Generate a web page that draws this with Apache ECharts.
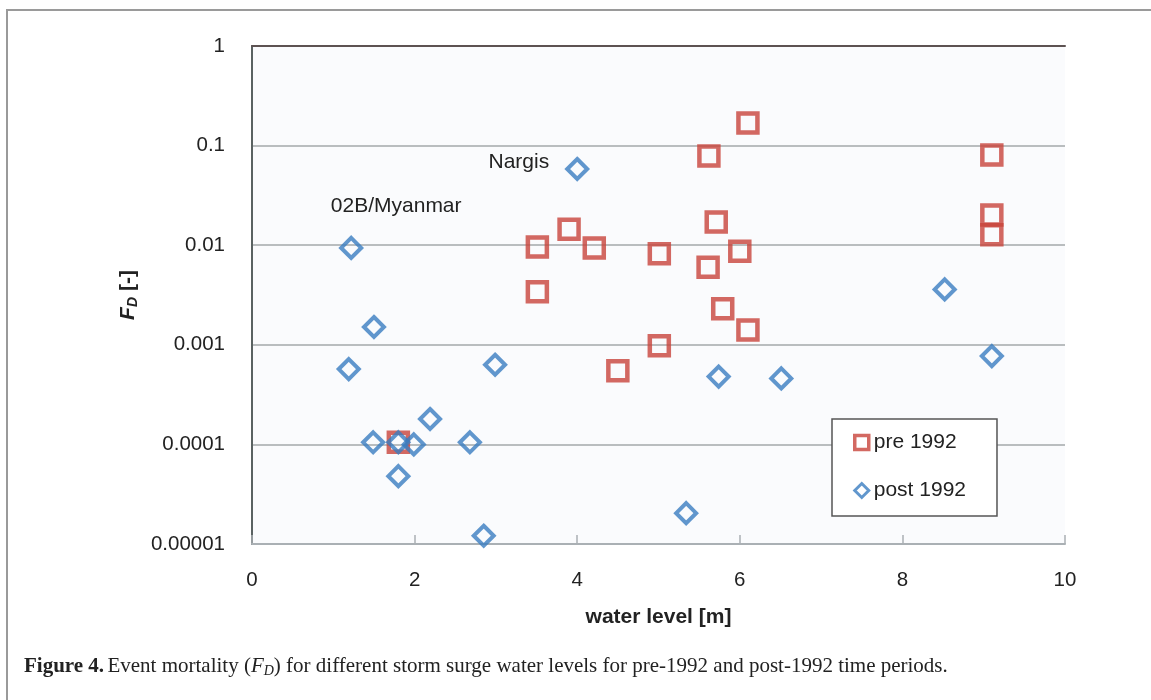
<!DOCTYPE html>
<html>
<head>
<meta charset="utf-8">
<script src="https://cdn.jsdelivr.net/npm/echarts@6/dist/echarts.min.js"></script>
<style>
  html, body { margin: 0; padding: 0; background: #fff; }
  #chart { width: 1151px; height: 700px; }
</style>
</head>
<body>
<div id="chart"></div>
<script>
// pre 1992 events: water level [m] and event mortality F_D [-]
var preLevel = [6.1, 5.62, 9.1, 9.1, 9.1, 5.71, 3.9, 3.51, 4.21, 5.01, 6.0, 5.61, 3.51, 5.79, 6.1, 5.01, 4.5, 1.8];
var preFD = [0.169, 0.0787, 0.0805, 0.0201, 0.0127, 0.0171, 0.0145, 0.0096, 0.0094, 0.0082, 0.0087, 0.0060, 0.0034, 0.0023, 0.00141, 0.00098, 0.00055, 0.000105];

// post 1992 events
var postLevel = [4.0, 1.22, 1.5, 1.19, 2.99, 5.74, 6.51, 8.52, 9.1, 2.19, 1.49, 1.8, 1.99, 2.68, 1.8, 5.34, 2.85];
var postFD = [0.0582, 0.0094, 0.00151, 0.00057, 0.00063, 0.00048, 0.00046, 0.0036, 0.00077, 0.00018, 0.000105, 0.000105, 0.0001, 0.000105, 0.000048, 0.0000204, 0.0000121];

var yTickLabels = ['0.00001', '0.0001', '0.001', '0.01', '0.1', '1'];
var xTicks = { min: 0, max: 10, step: 2 };

function pairs(xs, ys) {
  return xs.map(function (x, i) { return [x, ys[i]]; });
}

var chart = echarts.init(document.getElementById('chart'));
var font = '"Liberation Sans", Arial, sans-serif';
var serif = '"Liberation Serif", "Times New Roman", serif';
var red = '#c8443b';
var blue = '#3a7dc0';

chart.setOption({
  animation: false,
  backgroundColor: '#fff',
  textStyle: { fontFamily: font },
  grid: {
    left: 252, right: 86, top: 46, bottom: 156,
    show: true,
    backgroundColor: '#fafbfd',
    borderWidth: 0
  },
  legend: {
    orient: 'vertical',
    left: 832,
    top: 419,
    padding: [13, 31, 15, 21],
    itemWidth: 14,
    itemHeight: 14,
    itemGap: 27,
    backgroundColor: '#fff',
    borderColor: '#555',
    borderWidth: 1.5,
    textStyle: { fontFamily: font, fontSize: 21, color: '#222' },
    data: [
      { name: 'pre 1992', itemStyle: { borderWidth: 3.5, borderColor: red, color: 'rgba(255,255,255,0)' } },
      { name: 'post 1992', itemStyle: { borderWidth: 3, borderColor: blue, color: 'rgba(255,255,255,0)' } }
    ]
  },
  xAxis: [{
    type: 'value',
    min: xTicks.min,
    max: xTicks.max,
    interval: xTicks.step,
    name: 'water level [m]',
    nameLocation: 'middle',
    nameGap: 63,
    nameTextStyle: { fontFamily: font, fontSize: 21, fontWeight: 'bold', color: '#222' },
    axisLine: { lineStyle: { color: '#aab0b4', width: 2 } },
    axisTick: { inside: true, length: 9, lineStyle: { color: '#aab0b4', width: 1.5 } },
    axisLabel: { fontFamily: font, fontSize: 20.5, color: '#222', margin: 26 },
    splitLine: { show: false }
  }, {
    type: 'value',
    position: 'top',
    min: xTicks.min,
    max: xTicks.max,
    axisLine: { show: true, onZero: false, lineStyle: { color: '#5d5252', width: 2 } },
    axisTick: { show: false },
    axisLabel: { show: false },
    splitLine: { show: false }
  }],
  yAxis: [{
    type: 'log',
    logBase: 10,
    min: 0.00001,
    max: 1,
    name: '{f|F}{d|D}{b| [-]}',
    nameLocation: 'middle',
    nameGap: 110,
    nameRotate: 90,
    nameTextStyle: {
      rich: {
        f: { fontFamily: font, fontSize: 21, fontWeight: 'bold', fontStyle: 'italic', color: '#222' },
        d: { fontFamily: font, fontSize: 14, fontWeight: 'bold', fontStyle: 'italic', color: '#222', verticalAlign: 'bottom', padding: [9, 0, 0, 0] },
        b: { fontFamily: font, fontSize: 21, fontWeight: 'bold', color: '#222' }
      }
    },
    axisLine: { show: true, lineStyle: { color: '#aab0b4', width: 2 } },
    axisTick: { show: false },
    axisLabel: {
      fontFamily: font, fontSize: 20.5, color: '#222', margin: 27,
      formatter: function (v) {
        var k = Math.round(Math.log10(v)) + 5;
        return yTickLabels[k] !== undefined ? yTickLabels[k] : '';
      }
    },
    splitLine: { lineStyle: { color: '#b9bdbf', width: 2 } },
    minorTick: { show: false }
  }, {
    type: 'value',
    position: 'right',
    min: 0, max: 1,
    axisLine: { show: true, lineStyle: { color: '#5a6262', width: 2 } },
    axisTick: { show: false },
    axisLabel: { show: false },
    splitLine: { show: false }
  }],
  series: [{
    name: 'pre 1992',
    type: 'scatter',
    symbol: 'rect',
    symbolSize: 19,
    itemStyle: { color: 'rgba(255,255,255,0)', borderColor: red, borderWidth: 4.5 },
    data: pairs(preLevel, preFD),
    z: 2
  }, {
    name: 'post 1992',
    type: 'scatter',
    symbol: 'diamond',
    symbolSize: 20,
    itemStyle: { color: 'rgba(255,255,255,0)', borderColor: blue, borderWidth: 4 },
    data: pairs(postLevel, postFD),
    z: 3,
    markPoint: {
      symbol: 'circle',
      symbolSize: 0,
      itemStyle: { color: 'transparent' },
      label: { show: true, fontFamily: font, fontSize: 21, color: '#222' },
      data: [
        { coord: [postLevel[0], postFD[0]], label: { formatter: 'Nargis', position: 'left', distance: 28, offset: [0, -7] } },
        { coord: [postLevel[1], postFD[1]], label: { formatter: '02B/Myanmar', position: 'inside', offset: [45, -42] } }
      ]
    }
  }],
  graphic: [{
    type: 'rect',
    shape: { x: 7, y: 10, width: 1160, height: 710 },
    style: { fill: 'none', stroke: '#9a9a9a', lineWidth: 2 },
    silent: true
  }, {
    type: 'text',
    left: 24,
    top: 656,
    style: {
      text: '{b|Figure 4.} {n|Event mortality (}{i|F}{s|D}{n|) for different storm surge water levels for pre-1992 and post-1992 time periods.}',
      rich: {
        b: { fontFamily: serif, fontSize: 21, fontWeight: 'bold', fill: '#222' },
        n: { fontFamily: serif, fontSize: 21, fill: '#222' },
        i: { fontFamily: serif, fontSize: 21, fontStyle: 'italic', fill: '#222' },
        s: { fontFamily: serif, fontSize: 14, fontStyle: 'italic', fill: '#222', verticalAlign: 'bottom', padding: [9, 0, 0, 0] }
      }
    }
  }]
});
</script>
</body>
</html>
